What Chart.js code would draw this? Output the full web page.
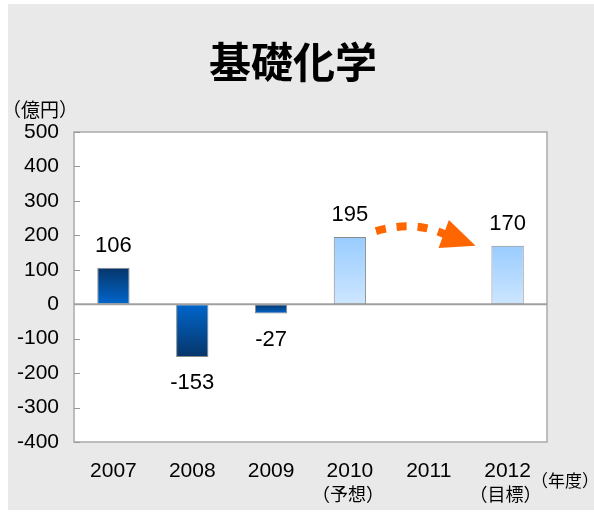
<!DOCTYPE html>
<html lang="ja">
<head>
  <meta charset="UTF-8"/>
  <title>基礎化学</title>
  <script src="https://cdn.jsdelivr.net/npm/chart.js"></script>
  <style>
    html, body { margin:0; padding:0; background:#fff; }
    #wrap { width:594px; height:512px; position:relative; }
  </style>
</head>
<body>
<div id="wrap"><canvas id="chart" width="594" height="512"></canvas></div>
<script>
  // data
  const years = ['2007', '2008', '2009', '2010', '2011', '2012'];
  const yearNotes = ['', '', '', '（予想）', '', '（目標）'];
  const profit = [106, -153, -27, 195, null, 170];
  const yTicks = [500, 400, 300, 200, 100, 0, -100, -200, -300, -400];

  const FONT = '"Liberation Sans", Arial, "Noto Sans CJK JP", sans-serif';
  const JP = '"Noto Sans CJK JP", "Liberation Sans", sans-serif';

  // actual results = dark blue, plan/target = light blue
  function barFill(ctx) {
    const chart = ctx.chart, i = ctx.dataIndex, v = profit[i];
    const area = chart.chartArea;
    if (!area || v == null) return '#0066cc';
    const y = chart.scales.y;
    const top = y.getPixelForValue(Math.max(v, 0)), bot = y.getPixelForValue(Math.min(v, 0));
    const g = chart.ctx.createLinearGradient(0, top, 0, bot);
    if (i >= 3) {
      g.addColorStop(0, '#99ccff'); g.addColorStop(1, '#cde6ff');
    } else if (i === 1) {
      g.addColorStop(0, '#0066cc'); g.addColorStop(1, '#073569');
    } else {
      g.addColorStop(0, '#073569'); g.addColorStop(1, '#0066cc');
    }
    return g;
  }

  const decor = {
    id: 'decor',
    beforeDraw(chart) {
      const c = chart.ctx;
      c.save();
      c.fillStyle = '#e9e9e9';
      c.fillRect(8, 4, 586, 506);
      const a = chart.chartArea;
      c.fillStyle = '#fff';
      c.fillRect(a.left, a.top, a.right - a.left, a.bottom - a.top);
      c.restore();
    },
    afterDatasetsDraw(chart) {
      const c = chart.ctx, a = chart.chartArea;
      const xs = chart.scales.x, ys = chart.scales.y;
      c.save();
      // plot border
      c.strokeStyle = '#aaaaaa'; c.lineWidth = 1.5;
      c.strokeRect(a.left, a.top, a.right - a.left, a.bottom - a.top);
      // inner ticks on left axis
      c.strokeStyle = '#999'; c.lineWidth = 1;
      yTicks.forEach(t => {
        const py = Math.round(ys.getPixelForValue(t)) + 0.5;
        c.beginPath(); c.moveTo(a.left, py); c.lineTo(a.left + 6, py); c.stroke();
      });
      // zero line
      const z = ys.getPixelForValue(0);
      c.strokeStyle = '#a0a0a0'; c.lineWidth = 2;
      c.beginPath(); c.moveTo(a.left, z); c.lineTo(a.right, z); c.stroke();

      // value labels
      const meta = chart.getDatasetMeta(0);
      c.fillStyle = '#000'; c.font = '22px ' + FONT;
      c.textAlign = 'center'; c.textBaseline = 'middle';
      meta.data.forEach((bar, i) => {
        const v = profit[i];
        if (v == null) return;
        const py = v >= 0 ? bar.y - 22 : bar.y + 26;
        c.fillText(String(v), bar.x, py);
      });

      // year notes under the axis
      c.font = '18px ' + JP;
      years.forEach((y, i) => {
        if (yearNotes[i]) c.fillText(yearNotes[i], xs.getPixelForValue(i) - 2, 494);
      });
      c.textAlign = 'right';
      c.font = '17px ' + JP;
      c.fillText('（年度）', 599, 481);
      c.textAlign = 'left';
      c.font = '19px ' + JP;
      c.fillText('（億円）', 2, 110);

      // title
      c.textAlign = 'center';
      c.font = 'bold 42px ' + JP;
      c.fillText('基礎化学', 293, 62);

      // orange dotted arrow 2010 -> 2012
      const xa = xs.getPixelForValue(3), ya = ys.getPixelForValue(profit[3]);
      const xb = xs.getPixelForValue(5), yb = ys.getPixelForValue(profit[5]);
      const p0 = [xa + 26, ya - 6], cp = [xa + 65, ya - 17], p1 = [xb - 62, yb - 11];
      const tip = [xb - 32, yb];
      c.strokeStyle = '#ff6600'; c.fillStyle = '#ff6600';
      c.lineWidth = 8; c.setLineDash([10, 11]); c.lineCap = 'butt';
      c.beginPath(); c.moveTo(p0[0], p0[1]); c.quadraticCurveTo(cp[0], cp[1], p1[0], p1[1]); c.stroke();
      c.setLineDash([]);
      const dx = tip[0] - p1[0], dy = tip[1] - p1[1], len = Math.hypot(dx, dy);
      const nx = -dy / len * 15, ny = dx / len * 15;
      const bx = p1[0] - dx / len * 2, by = p1[1] - dy / len * 2;
      c.beginPath();
      c.moveTo(tip[0], tip[1]);
      c.lineTo(bx + nx, by + ny);
      c.lineTo(bx - nx, by - ny);
      c.closePath(); c.fill();
      c.restore();
    }
  };

  new Chart(document.getElementById('chart'), {
    type: 'bar',
    data: {
      labels: years,
      datasets: [{
        data: profit,
        backgroundColor: barFill,
        borderColor: '#8a8a8a',
        borderWidth: 1,
        borderSkipped: false,
        categoryPercentage: 1,
        barPercentage: 0.41
      }]
    },
    options: {
      responsive: false,
      animation: false,
      events: [],
      layout: { padding: { left: 8, top: 132, right: 47, bottom: 0 } },
      plugins: { legend: { display: false }, tooltip: { enabled: false } },
      scales: {
        x: {
          grid: { display: false, drawTicks: false },
          border: { display: false },
          ticks: { color: '#000', font: { size: 21, family: FONT }, padding: 17, maxRotation: 0 },
          afterFit: s => { s.height = 70; }
        },
        y: {
          min: -400, max: 500,
          afterBuildTicks: s => { s.ticks = yTicks.map(v => ({ value: v })); },
          grid: { display: false, drawTicks: false },
          border: { display: false },
          ticks: { color: '#000', font: { size: 21, family: FONT }, padding: 15 },
          afterFit: s => { s.width = 66; }
        }
      }
    },
    plugins: [decor]
  });
</script>
</body>
</html>
